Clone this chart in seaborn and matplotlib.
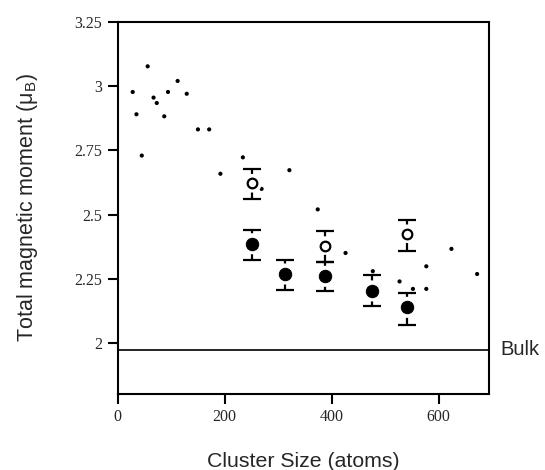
import matplotlib
matplotlib.use("Agg")
import matplotlib.pyplot as plt
import seaborn as sns
import pandas as pd

# small dots (calculated moments)
dot_size = [28, 35, 45, 56, 67, 73, 87, 94, 112, 129, 150, 171, 192, 234, 269, 321,
            374, 426, 477, 527, 552, 577, 577, 624, 672]
dot_moment = [2.978, 2.891, 2.730, 3.078, 2.956, 2.935, 2.883, 2.978, 3.021, 2.971,
              2.832, 2.832, 2.659, 2.723, 2.600, 2.673, 2.520, 2.350, 2.279, 2.239,
              2.210, 2.298, 2.210, 2.366, 2.268]

# filled circles with error bars
filled_size = [251, 312, 387, 475, 541]
filled_moment = [2.386, 2.268, 2.259, 2.202, 2.138]
filled_low = [2.324, 2.207, 2.200, 2.142, 2.070]
filled_high = [2.441, 2.323, 2.315, 2.264, 2.193]

# open circles with error bars
open_size = [252, 387, 541]
open_moment = [2.622, 2.379, 2.425]
open_low = [2.561, 2.315, 2.357]
open_high = [2.679, 2.435, 2.479]

bulk_moment = 1.973

x_ticks = [0, 200, 400, 600]
y_ticks = [2, 2.25, 2.5, 2.75, 3, 3.25]
y_tick_labels = ["2", "2.25", "2.5", "2.75", "3", "3.25"]

sns.set_style("ticks")
plt.rcParams["mathtext.fontset"] = "custom"
plt.rcParams["mathtext.rm"] = "Liberation Sans"

fig = plt.figure(figsize=(5.45, 4.70), dpi=100)
ax = fig.add_axes([0.216, 0.1617, 0.682, 0.791])

dots = pd.DataFrame({"size": dot_size, "moment": dot_moment})
filled = pd.DataFrame({"size": filled_size, "moment": filled_moment,
                       "low": filled_low, "high": filled_high})
opened = pd.DataFrame({"size": open_size, "moment": open_moment,
                       "low": open_low, "high": open_high})

sns.scatterplot(data=dots, x="size", y="moment", ax=ax, s=9, color="black",
                edgecolor="none", zorder=3)

for df in (filled, opened):
    ax.errorbar(df["size"], df["moment"],
                yerr=[df["moment"] - df["low"], df["high"] - df["moment"]],
                fmt="none", ecolor="black", elinewidth=1.6, capsize=6.5,
                capthick=1.6, zorder=2)

# white halo gives the gap between marker and bar
sns.scatterplot(data=filled, x="size", y="moment", ax=ax, s=230, color="white",
                edgecolor="none", zorder=4)
sns.scatterplot(data=opened, x="size", y="moment", ax=ax, s=180, color="white",
                edgecolor="none", zorder=4)
sns.scatterplot(data=filled, x="size", y="moment", ax=ax, s=80, color="black",
                edgecolor="black", zorder=5)
sns.scatterplot(data=opened, x="size", y="moment", ax=ax, s=48, color="white",
                edgecolor="black", linewidth=1.6, zorder=5)

ax.axhline(bulk_moment, color="black", lw=1.2, zorder=1)
ax.text(1.03, bulk_moment, "Bulk", transform=ax.get_yaxis_transform(),
        va="center", ha="left", fontsize=14.5, family="Liberation Sans")

ax.set_xlim(0, 695)
ax.set_ylim(1.8, 3.25)
ax.set_xticks(x_ticks)
ax.set_yticks(y_ticks)
ax.set_yticklabels(y_tick_labels)
for lab in ax.get_xticklabels() + ax.get_yticklabels():
    lab.set_family("Liberation Serif")
    lab.set_fontsize(11.5)
ax.tick_params(direction="out", length=7, width=1.5, color="black", pad=4)

for sp in ax.spines.values():
    sp.set_visible(True)
    sp.set_linewidth(1.5)
    sp.set_color("black")

ax.set_xlabel("Cluster Size (atoms)", fontsize=15.3, family="Liberation Sans",
              labelpad=19)
ax.set_ylabel("Total magnetic moment (μ$_{\\mathrm{B}}$)", fontsize=15.5,
              family="Liberation Sans", labelpad=25)

fig.savefig("out.png", dpi=100)
